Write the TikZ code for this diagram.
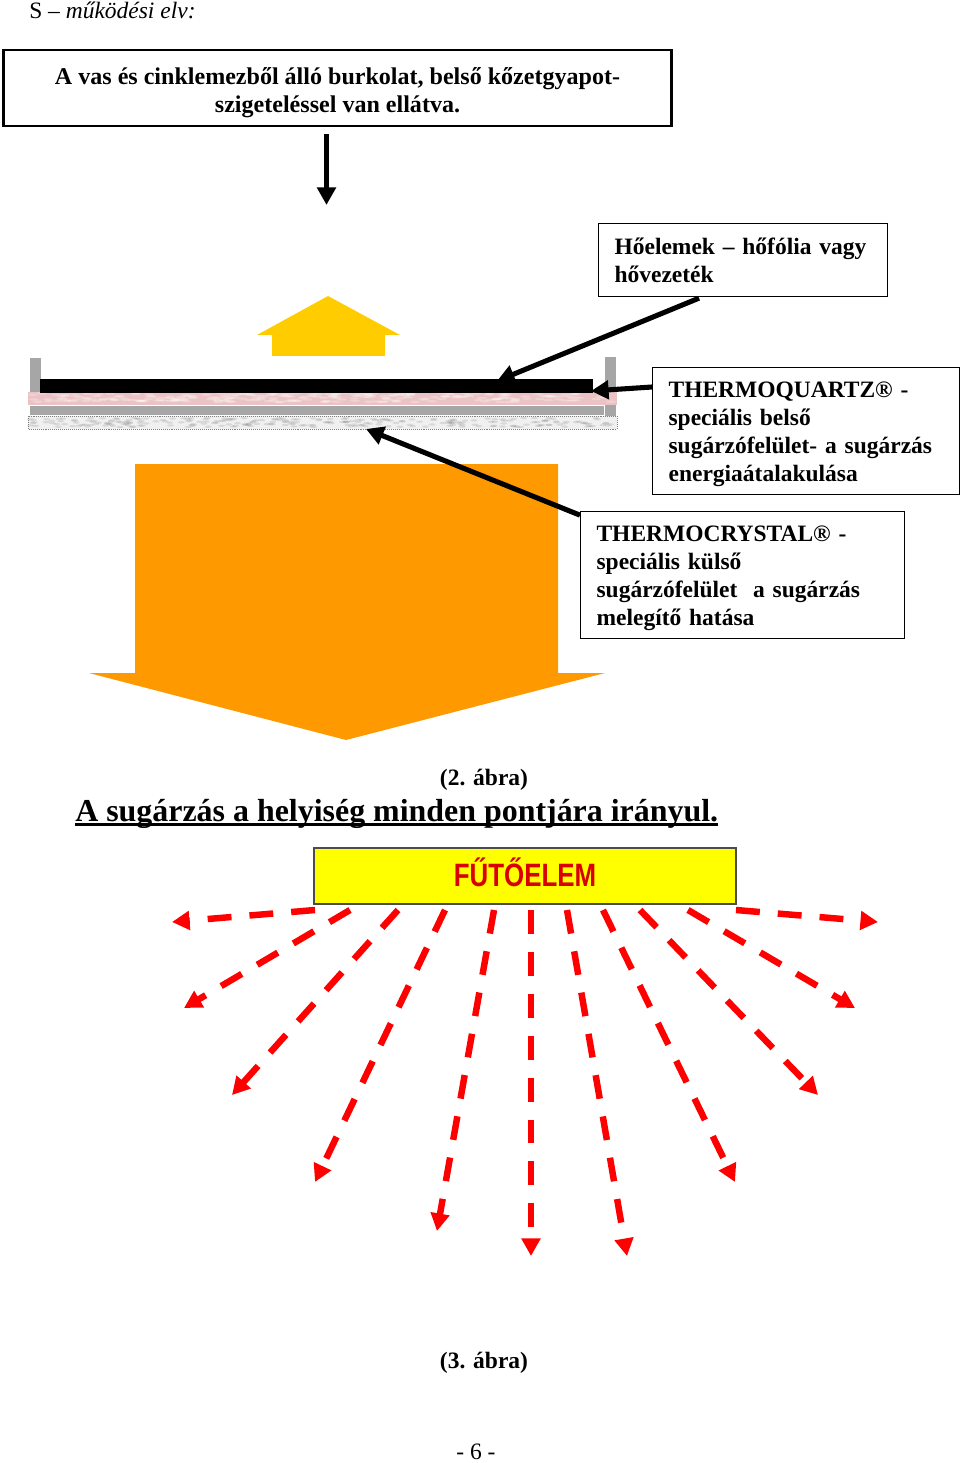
\documentclass[tikz,border=0pt]{standalone}
\usepackage{xcolor}
\usepackage{fontspec}
\setmainfont{Liberation Serif}
\newfontfamily\heaterfont{Liberation Sans}
\usetikzlibrary{positioning,calc,patterns,arrows.meta}
\definecolor{housegold}{HTML}{FFCC00}
\definecolor{heatorange}{HTML}{FF9900}
\definecolor{layergray}{HTML}{A6A6A6}
\definecolor{layerpink}{HTML}{EBC3C5}
\definecolor{layerwool}{HTML}{F0F0F0}
\definecolor{heateryellow}{HTML}{FFFF00}
\newcommand{\lowline}[1]{\setbox0\hbox{#1}\rlap{\rule[-3.4pt]{\wd0}{2pt}}\box0}
\tikzset{
    boxtext/.style={font=\fontsize{16.7pt}{19.9pt}\selectfont\bfseries, align=left, inner sep=0pt, execute at begin node=\rule{0pt}{#1}},
    boxtext/.default=15.6pt,
    infobox/.style={draw, line width=0.8pt, boxtext=#1, anchor=north west, inner xsep=11.4pt},
    infobox/.default=15.6pt,
    pointer/.style={line width=3.6pt, -{Triangle[length=12.5pt, width=13pt]}},
    ray/.style={draw=red, line width=4.6pt, dash pattern=on 17pt off 12.8pt, -{Triangle[length=12.5pt, width=13pt, fill=red]}},
    plain/.style={font=\fontsize{16.7pt}{19.9pt}\selectfont, inner sep=0pt},
    caption/.style={font=\fontsize{16.7pt}{19.9pt}\selectfont\bfseries, inner sep=0pt}
}
\begin{document}
\begin{tikzpicture}[x=0.025cm, y=-0.025cm]
    \useasboundingbox (0,0) rectangle (960,1463);

    \node [plain, anchor=base west] (head) at (29,19) {S -- \textit{működési elv:}};

    \node [draw, line width=1.8pt, font=\fontsize{17.1pt}{20pt}\selectfont\bfseries, align=center, inner sep=0pt, minimum width=16.7cm, minimum height=1.9cm] (shell) at (337.5,88) {\rule{0pt}{18.5pt}A vas és cinklemezből álló burkolat, belső kőzetgyapot-\\szigeteléssel van ellátva.};
    \coordinate (shelltip) at (326.5,205);
    \coordinate (shelltop) at (326.5,134);
    \draw [pointer] (shelltop) -- (shelltip);

    % labels on the right
    \node [infobox=12pt, text width=6.42cm, minimum height=1.825cm] (foil) at (598,223) {Hőelemek -- hőfólia vagy\\hővezeték};
    \node [infobox, text width=6.87cm, minimum height=3.175cm] (quartz) at (652,367) {THERMOQUARTZ® -\\speciális belső\\sugárzófelület- a sugárzás\\energiaátalakulása};
    \node [infobox, below=0.4cm of quartz.south west, anchor=north west, xshift=-1.8cm, text width=7.3cm, minimum height=3.175cm] (crystal) {THERMOCRYSTAL® -\\speciális külső\\sugárzófelület\ \ a sugárzás\\melegítő hatása};

    % wall layers
    \fill [layergray] (30,358) rectangle (41,393);
    \fill [layergray] (605,357) rectangle (616,416);
    \fill [layerpink] (28,392) rectangle (617,405);
    \fill [layergray] (30,406) rectangle (604,415);
    \filldraw [layerwool, draw=gray, densely dotted, line width=0.4pt] (28,416) rectangle (617,429);
    \pgfmathsetseed{7}
    \foreach \n in {1,...,260} {
        \pgfmathsetmacro{\sx}{30+rnd*582}
        \pgfmathsetmacro{\sy}{393+rnd*9}
        \fill [white, opacity=0.25] (\sx,\sy) ellipse (5 and 1.2);
        \pgfmathsetmacro{\wx}{30+rnd*582}
        \pgfmathsetmacro{\wy}{418+rnd*9}
        \fill [gray, opacity=0.2] (\wx,\wy) ellipse (3.5 and 1.2);
    }
    \fill [black] (40,379) rectangle (593,393);

    % big arrows
    \fill [housegold] (328,296) -- (400,335) -- (385,335) -- (385,356) -- (272,356) -- (272,335) -- (257,335) -- cycle;
    \fill [heatorange] (135,464) -- (558,464) -- (558,673) -- (605,673) -- (346,740) -- (89,673) -- (135,673) -- cycle;

    \coordinate (foiltip) at (497,381);
    \coordinate (quartztip) at (591,391);
    \coordinate (crystaltip) at (366,429);
    \draw [pointer] (foil.south) ++(-44,1) -- (foiltip);
    \draw [pointer] (quartz.west |- 0,387) -- (quartztip);
    \draw [pointer] (crystal.north west) ++(0,4) -- (crystaltip);

    \node [caption] (fig2) at (484,780) {(2. ábra)};
    \node [font=\fontsize{22.7pt}{26pt}\selectfont\bfseries, inner sep=0pt, anchor=base west] (title) at (75,821) {\lowline{A sugárzás a helyiség minden pontjára irányul.}};

    \node [draw=black!70, line width=1pt, fill=heateryellow, minimum width=10.55cm, minimum height=1.4cm, inner sep=0pt] (heater) at (525,876) {};
    \node [inner sep=0pt, text=red!85!black] (heatername) at (525,872) {\scalebox{0.8}[1]{\heaterfont\fontsize{23pt}{26pt}\selectfont\bfseries FŰTŐELEM}};

    % rays from the heater
    \foreach \i/\sx/\ex/\ey in {a/315/172/922, b/350/184/1008, c/398/232/1095, d/445/315/1182, e/494/437/1231, f/531/531/1256, g/567/627/1256, h/603/735/1182, i/640/818/1095, j/688/855/1008, k/736/878/922} {
        \coordinate (s\i) at (\sx,910);
        \coordinate (e\i) at (\ex,\ey);
        \draw [ray] (s\i) -- (e\i);
    }

    \node [caption] (fig3) at (484,1363) {(3. ábra)};
    \node [plain] (pagenum) at (476,1452) {- 6 -};
\end{tikzpicture}
\end{document}
